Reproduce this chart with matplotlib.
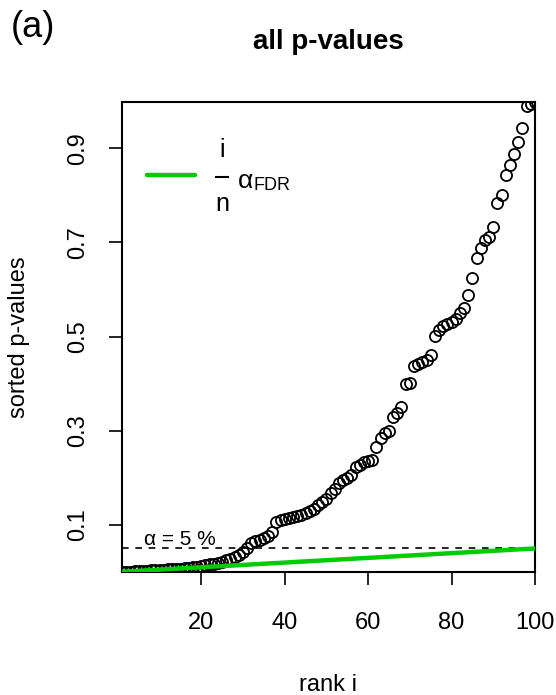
import numpy as np
import matplotlib
matplotlib.use("Agg")
import matplotlib.pyplot as plt

plt.rcParams["font.family"] = ["Liberation Sans", "DejaVu Sans"]

# sorted p-values (rank 1..100)
p_sorted = [
    0.0003, 0.0008, 0.0010, 0.0015, 0.0020, 0.0025, 0.0030, 0.0035, 0.0040, 0.0045,
    0.0050, 0.0055, 0.0060, 0.0065, 0.0070, 0.0080, 0.0090, 0.0100, 0.0110, 0.0120,
    0.0140, 0.0160, 0.0180, 0.0200, 0.0220, 0.0250, 0.0280, 0.0320, 0.0370, 0.0430,
    0.0520, 0.0620, 0.0660, 0.0690, 0.0720, 0.0760, 0.0840, 0.1070, 0.1100, 0.1120,
    0.1150, 0.1170, 0.1190, 0.1220, 0.1250, 0.1290, 0.1340, 0.1420, 0.1480, 0.1560,
    0.1680, 0.1760, 0.1880, 0.1950, 0.2000, 0.2070, 0.2220, 0.2280, 0.2340, 0.2360,
    0.2380, 0.2650, 0.2850, 0.2950, 0.3000, 0.3300, 0.3380, 0.3500, 0.4000, 0.4020,
    0.4380, 0.4420, 0.4460, 0.4500, 0.4600, 0.5020, 0.5150, 0.5220, 0.5260, 0.5300,
    0.5380, 0.5500, 0.5600, 0.5880, 0.6250, 0.6670, 0.6880, 0.7050, 0.7110, 0.7320,
    0.7830, 0.8000, 0.8430, 0.8640, 0.8870, 0.9130, 0.9430, 0.9900, 0.9950, 0.9980,
]
rank = np.arange(1, len(p_sorted) + 1)
n = len(p_sorted)
alpha = 0.05

x_ticks = [20, 40, 60, 80, 100]
y_ticks = [0.1, 0.3, 0.5, 0.7, 0.9]

fig = plt.figure(figsize=(5.56, 6.95), dpi=100)
ax = fig.add_axes([0.2194, 0.177, 0.7428, 0.676])

# BH line i/n * alpha
ax.plot(rank, rank / n * alpha, color="#00cc00", lw=3.2, zorder=3)
ax.plot(rank, p_sorted, linestyle="none", marker="o", markersize=8,
        markerfacecolor="none", markeredgecolor="black", markeredgewidth=1.3, zorder=2)
ax.axhline(alpha, color="black", lw=1.2, ls=(0, (4, 4)), zorder=1)
ax.text(6.3, 0.057, "α = 5 %", fontsize=15, va="baseline", ha="left")

ax.set_xlim(1, 100)
ax.set_ylim(0, 0.998)
ax.set_xticks(x_ticks)
ax.set_yticks(y_ticks)
ax.set_yticklabels([str(v) for v in y_ticks], rotation=90, va="center")
ax.tick_params(axis="both", direction="out", length=9.5, width=1.2, labelsize=17)
ax.tick_params(axis="x", pad=19)
ax.tick_params(axis="y", pad=14)
for s in ax.spines.values():
    s.set_linewidth(1.5)

ax.set_xlabel("rank i", fontsize=17, labelpad=29)
ax.set_ylabel("sorted p-values", fontsize=17, labelpad=27)
ax.set_title("all p-values", fontsize=20, fontweight="bold", pad=38)

# legend drawn by hand like the R version: i/n alpha_FDR
tr = ax.transAxes
ax.plot([0.06, 0.177], [0.845, 0.845], transform=tr, color="#00cc00",
        lw=3.2, solid_capstyle="round")
ax.text(0.242, 0.898, "i", transform=tr, fontsize=18, ha="center", va="center")
ax.plot([0.228, 0.257], [0.841, 0.841], transform=tr, color="black", lw=1.5)
ax.text(0.242, 0.783, "n", transform=tr, fontsize=18, ha="center", va="center")
ax.text(0.280, 0.832, "α", transform=tr, fontsize=19, ha="left", va="center")
ax.text(0.318, 0.813, "FDR", transform=tr, fontsize=13, ha="left", va="baseline")

fig.text(0.02, 0.961, "(a)", fontsize=26, va="center", ha="left")

fig.savefig("out.png", dpi=100)
